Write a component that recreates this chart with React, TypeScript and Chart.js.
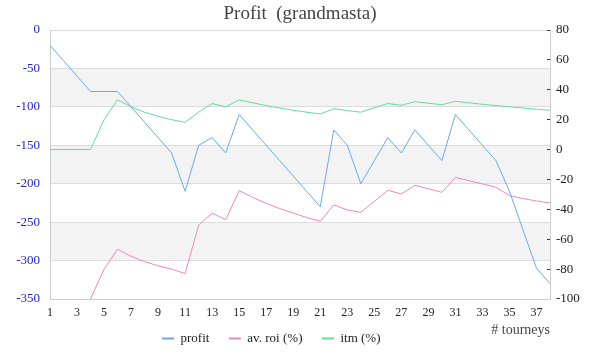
import React, { useEffect, useRef } from 'react';
import { Chart, registerables } from 'chart.js';

Chart.register(...registerables);

const FONT = '"Liberation Serif", "DejaVu Serif", serif';

const tourneys = ['1','2','3','4','5','6','7','8','9','10','11','12','13','14','15','16','17','18','19','20','21','22','23','24','25','26','27','28','29','30','31','32','33','34','35','36','37','38'];

const profit = [-20,-40,-60,-80,-80,-80,-100,-120,-140,-160,-210,-150,-140,-160,-110,-130,-150,-170,-190,-210,-230,-130,-150,-200,-170,-140,-160,-130,-150,-170,-110,-130,-150,-170,-210,-260,-310,-330];

const avRoi = [null,null,null,-100,-80,-66.7,-71.4,-75,-77.8,-80,-83,-50.5,-42.5,-47,-27.5,-32,-36,-39.5,-42.5,-45.5,-48,-37,-40.4,-42,-34.6,-27.3,-29.7,-23.9,-26.3,-28.6,-18.6,-20.8,-23,-25.2,-30.8,-32.8,-34.4,-35.7];

const itm = [0,0,0,0,20,33.3,28.6,25,22.2,20,18.2,25,30.8,28.6,33.3,31.3,29.4,27.8,26.3,25,23.8,27.3,26.1,25,28,30.8,29.6,32.1,31,30,32.3,31.3,30.3,29.4,28.6,27.8,27,26.3];

const seriesNames = ['profit', 'av. roi (%)', 'itm (%)'];
const seriesColors = ['rgb(102,170,238)', 'rgb(242,135,182)', 'rgb(98,220,160)'];

const bandsPlugin = {
  id: 'bands',
  beforeDraw(chart: any) {
    const { ctx, chartArea, scales } = chart;
    const y = scales.y;
    const ticks = y.ticks;
    ctx.save();
    ctx.fillStyle = '#f3f3f3';
    for (let i = 1; i < ticks.length - 1; i += 2) {
      const a = y.getPixelForValue(ticks[i].value);
      const b = y.getPixelForValue(ticks[i + 1].value);
      ctx.fillRect(chartArea.left, Math.min(a, b), chartArea.right - chartArea.left, Math.abs(a - b));
    }
    ctx.restore();
  },
};

export default function App() {
  const ref = useRef<HTMLCanvasElement | null>(null);

  useEffect(() => {
    if (!ref.current) return;
    Chart.defaults.font.family = FONT;
    const chart = new Chart(ref.current, {
      type: 'line',
      data: {
        labels: tourneys,
        datasets: [
          { label: seriesNames[0], data: profit, yAxisID: 'y', borderColor: seriesColors[0], backgroundColor: seriesColors[0], borderWidth: 1, pointRadius: 0, tension: 0 },
          { label: seriesNames[1], data: avRoi, yAxisID: 'y2', borderColor: seriesColors[1], backgroundColor: seriesColors[1], borderWidth: 1, pointRadius: 0, tension: 0 },
          { label: seriesNames[2], data: itm, yAxisID: 'y2', borderColor: seriesColors[2], backgroundColor: seriesColors[2], borderWidth: 1, pointRadius: 0, tension: 0 },
        ],
      },
      options: {
        animation: false,
        responsive: false,
        layout: { padding: { left: 0, right: 0, top: 0, bottom: 5 } },
        plugins: {
          title: {
            display: true,
            text: 'Profit  (grandmasta)',
            color: '#444',
            font: { family: FONT, size: 19, weight: 'normal' },
            padding: { top: 3, bottom: 4.2 },
          },
          legend: {
            position: 'bottom',
            labels: {
              font: { family: FONT, size: 13 },
              color: '#222',
              boxWidth: 12,
              boxHeight: 2,
              padding: 19.5,
              generateLabels: (c: any) => {
                const items = (Chart.defaults.plugins.legend.labels as any).generateLabels(c).map((it: any) => ({ ...it, lineWidth: 0 }));
                items.push({
                  text: '\u2003\u2002',
                  fillStyle: 'rgba(0,0,0,0)',
                  strokeStyle: 'rgba(0,0,0,0)',
                  fontColor: 'rgba(0,0,0,0)',
                  lineWidth: 0,
                  hidden: false,
                  datasetIndex: -1,
                });
                return items;
              },
            },
          },
          tooltip: { enabled: false },
        },
        scales: {
          x: {
            type: 'category',
            offset: false,
            grid: { display: false, drawTicks: false },
            border: { display: true, color: '#cccccc' },
            ticks: {
              autoSkip: false,
              maxRotation: 0,
              mirror: true,
              padding: -21.2,
              color: '#222',
              font: { family: FONT, size: 12 },
              callback: (_v: any, i: number) => (i % 2 === 0 ? tourneys[i] : ''),
            },
            title: {
              display: true,
              text: '# tourneys',
              align: 'end',
              color: '#444',
              font: { family: FONT, size: 14 },
              padding: { top: 0, bottom: -26.5 },
            },
            afterFit: (s: any) => { s.height = 13.5; },
          },
          y: {
            position: 'left',
            min: -350,
            max: 0,
            ticks: { stepSize: 50, color: '#2424dd', padding: 10, font: { family: FONT, size: 13 } },
            grid: { color: '#dddddd', drawTicks: false },
            border: { display: true, color: '#cccccc' },
            afterFit: (s: any) => { s.width = 50; },
          },
          y2: {
            position: 'right',
            min: -100,
            max: 80,
            ticks: {
              stepSize: 10,
              color: '#222',
              padding: 9,
              font: { family: FONT, size: 13 },
              callback: (v: any) => (Number(v) % 20 === 0 ? String(v) : ''),
            },
            grid: { drawOnChartArea: false, drawTicks: true, tickLength: -3, tickColor: '#333' },
            border: { display: true, color: '#cccccc' },
            afterFit: (s: any) => { s.width = 50; },
          },
        },
      } as any,
      plugins: [bandsPlugin],
    });
    return () => chart.destroy();
  }, []);

  return (
    <div style={{ position: 'absolute', left: 0, top: 0, width: 600, height: 360, background: '#fff' }}>
      <canvas ref={ref} width={600} height={360} style={{ display: 'block' }} />
    </div>
  );
}
